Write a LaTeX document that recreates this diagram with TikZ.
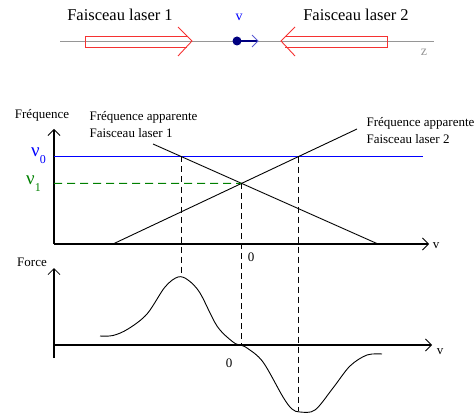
\documentclass[tikz,border=0pt]{standalone}
\usepackage{fontspec}
\setmainfont{Liberation Serif}
\newfontfamily\tnr{Liberation Serif}
\usetikzlibrary{arrows.meta,intersections}
\definecolor{lasred}{RGB}{245,50,50}
\definecolor{zgray}{RGB}{150,150,150}
\definecolor{dotnavy}{RGB}{0,0,128}
\definecolor{headblue}{RGB}{90,90,210}
\definecolor{nugreen}{RGB}{0,128,0}
\begin{document}
\begin{tikzpicture}[x=1pt,y=-1pt,
  axis/.style={line width=1.1pt,-{Straight Barb[length=6pt,width=12pt,line width=0.8pt]}},
  thinline/.style={line width=0.9pt},
  vdash/.style={line width=0.9pt,dash pattern=on 6pt off 4pt},
  laser/.style={lasred,line width=0.9pt},
  big/.style={font=\tnr\fontsize{16.5}{18}\selectfont},
  lab/.style={font=\tnr\fontsize{13}{17}\selectfont},
  nu/.style={font=\tnr\fontsize{19}{19}\selectfont,anchor=base west,inner sep=0pt}]
\useasboundingbox (0,0) rectangle (476,414);
% ---- top: beams ----
\coordinate (zl) at (60,41);
\coordinate (zr) at (434,41);
\draw[zgray,line width=0.9pt] (zl) -- (zr);
\draw[laser] (187,36) -- (85,36) -- (85,47) -- (187,47);
\draw[laser] (178,27) -- (192,41) -- (178,56);
\draw[laser] (285,36) -- (387,36) -- (387,47) -- (285,47);
\draw[laser] (295,27) -- (281,41) -- (295,56);
\coordinate (dot) at (237,41);
\fill[dotnavy] (dot) circle (4.5);
\coordinate (vtip) at (257,41);
\draw[dotnavy,line width=1.6pt] (dot) -- (vtip);
\draw[headblue,line width=0.9pt] (252,35) -- (258,41) -- (252,47);
\node[big] (t1) at (120,15) {Faisceau laser 1};
\node[big] (t2) at (356,15) {Faisceau laser 2};
\node[font=\tnr\fontsize{14}{14}\selectfont,text=blue] (tv) at (239,17) {v};
\node[font=\tnr\fontsize{14}{14}\selectfont,text=zgray] (tz) at (424,52) {z};
% ---- frequency graph ----
\coordinate (O1) at (54,244);
\draw[axis] (O1) -- (54,129);
\draw[axis] (O1) -- (429,244);
\node[lab] (fq) at (42,115) {Fréquence};
\node[lab] (v1) at (436,246) {v};
\draw[blue,thinline,name path=nu0] (54,156.5) -- (423,156.5);
\draw[thinline,name path=f1] (153,144) -- (378,244);
\draw[thinline,name path=f2] (113,244) -- (357,129);
\path[name intersections={of=f1 and nu0,by=A}];
\path[name intersections={of=f2 and nu0,by=B}];
\path[name intersections={of=f1 and f2,by=C}];
\draw[nugreen,line width=0.9pt,dash pattern=on 8pt off 5pt] (54,183.4) -- (C);
\node[nu,text=blue] (n0) at (31,157) {ν\raisebox{-7pt}{\fontsize{12}{12}\selectfont 0}};
\node[nu,text=nugreen] (n1) at (26,185) {ν\raisebox{-7pt}{\fontsize{12}{12}\selectfont 1}};
\node[lab,align=left,anchor=west] (a1) at (86,124.5) {Fréquence apparente\\Faisceau laser 1};
\node[lab,align=left,anchor=west] (a2) at (363,131) {Fréquence apparente\\Faisceau laser 2};
\node[lab] (z1) at (251,257) {0};
% ---- force graph ----
\coordinate (O2) at (54,345);
\draw[axis] (54,358) -- (54,268);
\draw[axis] (O2) -- (432,345);
\node[lab] (fo) at (32,262) {Force};
\node[lab] (v2) at (440,352) {v};
\node[lab] (z2) at (229,363) {0};
\draw[thinline] plot[smooth,tension=0.55] coordinates {(100,336) (113,335.5) (128,329) (147,314) (165,287) (178,277) (188,280) (200,293) (217,326) (233,342) (240,345) (247,348) (263,362) (283,397) (292,409) (300,412) (315,410) (333,388) (350,366) (367,355) (382,354)};
\draw[vdash] (A) -- (A|-0,276);
\draw[vdash] (C) -- (C|-O2);
\draw[vdash] (B) -- (B|-0,411);
\end{tikzpicture}
\end{document}
